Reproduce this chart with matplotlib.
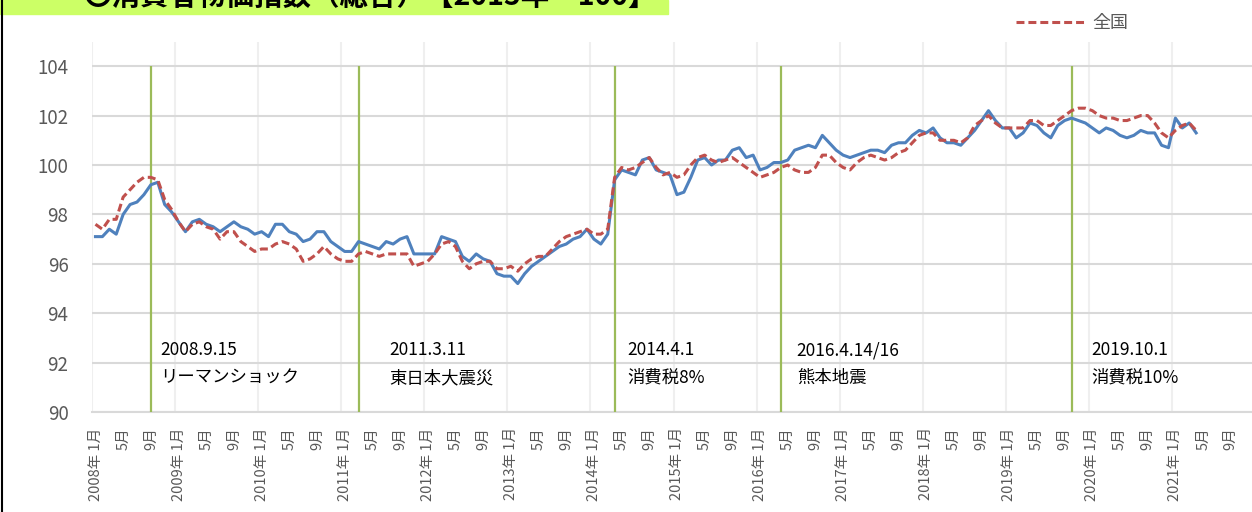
import numpy as np
import matplotlib.pyplot as plt
from matplotlib.lines import Line2D
from matplotlib.patches import Rectangle

plt.rcParams['font.family'] = ['Noto Sans CJK JP', 'DejaVu Sans']

# --- data (monthly, 2008/1 .. 2021/12 on the axis) ---
years = list(range(2008, 2022))
months = [f'{y}-{m:02d}' for y in years for m in range(1, 13)]

# local index (blue, solid)
local_idx = [97.1, 97.1, 97.4, 97.2, 98.0, 98.4, 98.5, 98.8, 99.2, 99.3, 98.4, 98.1,
             97.7, 97.3, 97.7, 97.8, 97.6, 97.5, 97.3, 97.5, 97.7, 97.5, 97.4, 97.2,
             97.3, 97.1, 97.6, 97.6, 97.3, 97.2, 96.9, 97.0, 97.3, 97.3, 96.9, 96.7,
             96.5, 96.5, 96.9, 96.8, 96.7, 96.6, 96.9, 96.8, 97.0, 97.1, 96.4, 96.4,
             96.4, 96.4, 97.1, 97.0, 96.9, 96.3, 96.1, 96.4, 96.2, 96.1, 95.6, 95.5,
             95.5, 95.2, 95.6, 95.9, 96.1, 96.3, 96.5, 96.7, 96.8, 97.0, 97.1, 97.4,
             97.0, 96.8, 97.2, 99.4, 99.8, 99.7, 99.6, 100.2, 100.3, 99.8, 99.7, 99.6,
             98.8, 98.9, 99.5, 100.2, 100.3, 100.0, 100.2, 100.2, 100.6, 100.7, 100.3, 100.4,
             99.8, 99.9, 100.1, 100.1, 100.2, 100.6, 100.7, 100.8, 100.7, 101.2, 100.9, 100.6,
             100.4, 100.3, 100.4, 100.5, 100.6, 100.6, 100.5, 100.8, 100.9, 100.9, 101.2, 101.4,
             101.3, 101.5, 101.1, 100.9, 100.9, 100.8, 101.1, 101.4, 101.8, 102.2, 101.8, 101.5,
             101.5, 101.1, 101.3, 101.7, 101.6, 101.3, 101.1, 101.6, 101.8, 101.9, 101.8, 101.7,
             101.5, 101.3, 101.5, 101.4, 101.2, 101.1, 101.2, 101.4, 101.3, 101.3, 100.8, 100.7,
             101.9, 101.5, 101.7, 101.3]

# 全国 (red, dashed)
zenkoku = [97.6, 97.4, 97.8, 97.8, 98.7, 99.0, 99.3, 99.5, 99.5, 99.4, 98.6, 98.2,
           97.7, 97.3, 97.6, 97.7, 97.5, 97.4, 97.0, 97.3, 97.3, 96.9, 96.7, 96.5,
           96.6, 96.6, 96.8, 96.9, 96.8, 96.6, 96.1, 96.2, 96.4, 96.7, 96.4, 96.2,
           96.1, 96.1, 96.4, 96.5, 96.4, 96.3, 96.4, 96.4, 96.4, 96.4, 95.9, 96.0,
           96.1, 96.4, 96.8, 96.9, 96.7, 96.1, 95.8, 96.0, 96.1, 96.1, 95.8, 95.8,
           95.9, 95.7, 96.0, 96.2, 96.3, 96.3, 96.6, 96.9, 97.1, 97.2, 97.3, 97.4,
           97.2, 97.2, 97.4, 99.5, 99.9, 99.8, 99.9, 100.1, 100.3, 99.9, 99.6, 99.7,
           99.5, 99.6, 100.0, 100.3, 100.4, 100.2, 100.1, 100.2, 100.3, 100.1, 99.9, 99.7,
           99.5, 99.6, 99.7, 99.9, 100.0, 99.8, 99.7, 99.7, 99.9, 100.4, 100.4, 100.1,
           99.9, 99.8, 100.1, 100.3, 100.4, 100.3, 100.2, 100.3, 100.5, 100.6, 100.9, 101.2,
           101.3, 101.3, 101.0, 101.0, 101.0, 100.9, 101.1, 101.6, 101.8, 102.0, 101.7, 101.5,
           101.5, 101.5, 101.5, 101.8, 101.8, 101.6, 101.6, 101.8, 102.0, 102.2, 102.3, 102.3,
           102.2, 102.0, 101.9, 101.9, 101.8, 101.8, 101.9, 102.0, 102.0, 101.7, 101.3, 101.1,
           101.4, 101.6, 101.7, 101.4]

# events (month on the axis, text)
event_months = ['2008-09', '2011-03', '2014-04', '2016-04', '2019-10']
event_dates = ['2008.9.15', '2011.3.11', '2014.4.1', '2016.4.14/16', '2019.10.1']
event_names = ['リーマンショック', '東日本大震災', '消費税8%', '熊本地震', '消費税10%']
# left edge of each text box, in category units
event_text_x = [9.3, 42.5, 76.8, 101.3, 143.9]

title = '〇消費者物価指数（総合）【2015年＝100】'

# --- figure ---
W, H = 1252, 512
fig = plt.figure(figsize=(W / 100, H / 100), dpi=100)
ax = fig.add_axes([92 / W, 100 / H, (1255 - 92) / W, (412 - 41.5) / H])

x = np.arange(len(months))
gray = '#595959'

ax.plot(x[:len(local_idx)], local_idx, color='#4F81BD', lw=2.2, solid_joinstyle='round', zorder=4)
ax.plot(x[:len(zenkoku)], zenkoku, color='#C0504D', lw=2.2, dashes=(2.6, 1.3), zorder=5)

# event lines + text
for m, d, n, tx in zip(event_months, event_dates, event_names, event_text_x):
    ax.vlines(months.index(m), 90, 104, color='#9BBB59', lw=1.6, zorder=3)
    ax.text(tx, 92.5, d, fontsize=12.5, va='center', ha='left', color='black')
    ax.text(tx, 91.38, n, fontsize=12.5, va='center', ha='left', color='black')

# axes
ax.set_xlim(-0.5, len(months) - 0.5)
ax.set_ylim(90, 105)
ax.set_yticks(np.arange(90, 105, 2))
ax.tick_params(axis='y', length=0, pad=17, labelsize=13.5, labelcolor=gray)

lbl_pos = [i for i in range(len(months)) if i % 4 == 0]
lbl_txt = []
for i in lbl_pos:
    y, m = months[i].split('-')
    lbl_txt.append(f'{y}年 {int(m)}月' if m == '01' else f'{int(m)}月')
ax.set_xticks(lbl_pos)
ax.set_xticklabels(lbl_txt, rotation=90, va='top', ha='center')
ax.tick_params(axis='x', length=0, pad=11, labelsize=10.5, labelcolor=gray)
ax.set_xticks(np.arange(-0.5, len(months), 12), minor=True)
ax.tick_params(axis='x', which='minor', length=0)

ax.grid(axis='y', which='major', color='#D9D9D9', lw=1.5)
ax.grid(axis='x', which='minor', color='#EFEFEF', lw=1.5)
ax.set_axisbelow(True)
for s in ['top', 'right', 'left']:
    ax.spines[s].set_visible(False)
ax.spines['bottom'].set_color('#D9D9D9')
ax.spines['bottom'].set_linewidth(1.5)

# legend
fig.legend([Line2D([], [], color='#C0504D', lw=2.2, dashes=(2.6, 1.3))], ['全国'],
           loc='center left', bbox_to_anchor=(1000 / W, 1 - 23 / H), frameon=False,
           fontsize=13, handlelength=3.8, handletextpad=0.4, labelcolor=gray)

# title bar (cut at top of the picture)
fig.patches.append(Rectangle((0, 1 - 14 / H), 668 / W, 14 / H, transform=fig.transFigure,
                             color='#CCFF66', zorder=0))
fig.text(84 / W, 1 - 5 / H, title, fontsize=20.5, fontweight='bold', va='baseline', ha='left')

# frame on the left
fig.add_artist(Line2D([2 / W, 2 / W], [0, 1], color='black', lw=1.5, transform=fig.transFigure))

fig.savefig('out.png', dpi=100)
